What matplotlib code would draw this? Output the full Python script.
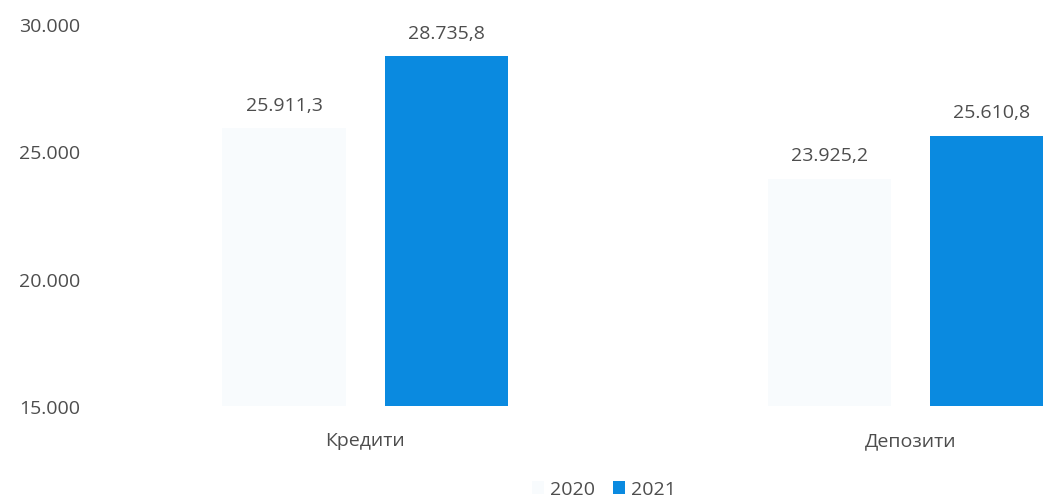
import matplotlib
matplotlib.use("Agg")
import matplotlib.pyplot as plt
import numpy as np

# Loans and deposits, 2020 vs 2021 (millions)
categories = ["Кредити", "Депозити"]
years = ["2020", "2021"]
values_2020 = [25911.3, 23925.2]
values_2021 = [28735.8, 25610.8]

TEXT = "#4d4d4d"
C2020 = "#f8fbfd"
C2021 = "#0a8ae0"
FS = 14

plt.rcParams["font.family"] = ["Open Sans", "DejaVu Sans"]


def fmt_num(v, decimals=0):
    s = f"{v:,.{decimals}f}"
    return s.replace(",", " ").replace(".", ",").replace(" ", ".")


fig = plt.figure(figsize=(10.43, 5.02), dpi=100)
ax = fig.add_axes([100 / 1043, 95 / 502, 943 / 1043, 382 / 502])

x = np.arange(len(categories))
width = 0.2255
offset = 0.1485

bars_a = ax.bar(x - offset, np.array(values_2020) - 15000, width, bottom=15000,
                color=C2020, label=years[0])
bars_b = ax.bar(x + offset, np.array(values_2021) - 15000, width, bottom=15000,
                color=C2021, label=years[1])

for bars, vals in ((bars_a, values_2020), (bars_b, values_2021)):
    for b, v in zip(bars, vals):
        ax.annotate(fmt_num(v, 1), (b.get_x() + b.get_width() / 2, v),
                    xytext=(0, 17), textcoords="offset points",
                    ha="center", va="center", fontsize=FS, color=TEXT)

ax.set_ylim(15000, 30000)
ax.set_xlim(-0.4858, 1.2429)
ax.set_yticks([15000, 20000, 25000, 30000])
ax.set_yticklabels([fmt_num(t) for t in [15000, 20000, 25000, 30000]])
ax.set_xticks(x)
ax.set_xticklabels(categories)
ax.tick_params(axis="y", length=0, pad=14, labelsize=FS, labelcolor=TEXT)
ax.tick_params(axis="x", length=0, pad=18, labelsize=FS, labelcolor=TEXT)
for s in ax.spines.values():
    s.set_visible(False)

fig.legend(loc="center", bbox_to_anchor=(604 / 1043, 1 - 490 / 502), ncol=2,
           frameon=False, fontsize=FS, labelcolor=TEXT, handlelength=0.65,
           handleheight=0.65, handletextpad=0.3, columnspacing=0.9)

fig.savefig("out.png", dpi=100)
